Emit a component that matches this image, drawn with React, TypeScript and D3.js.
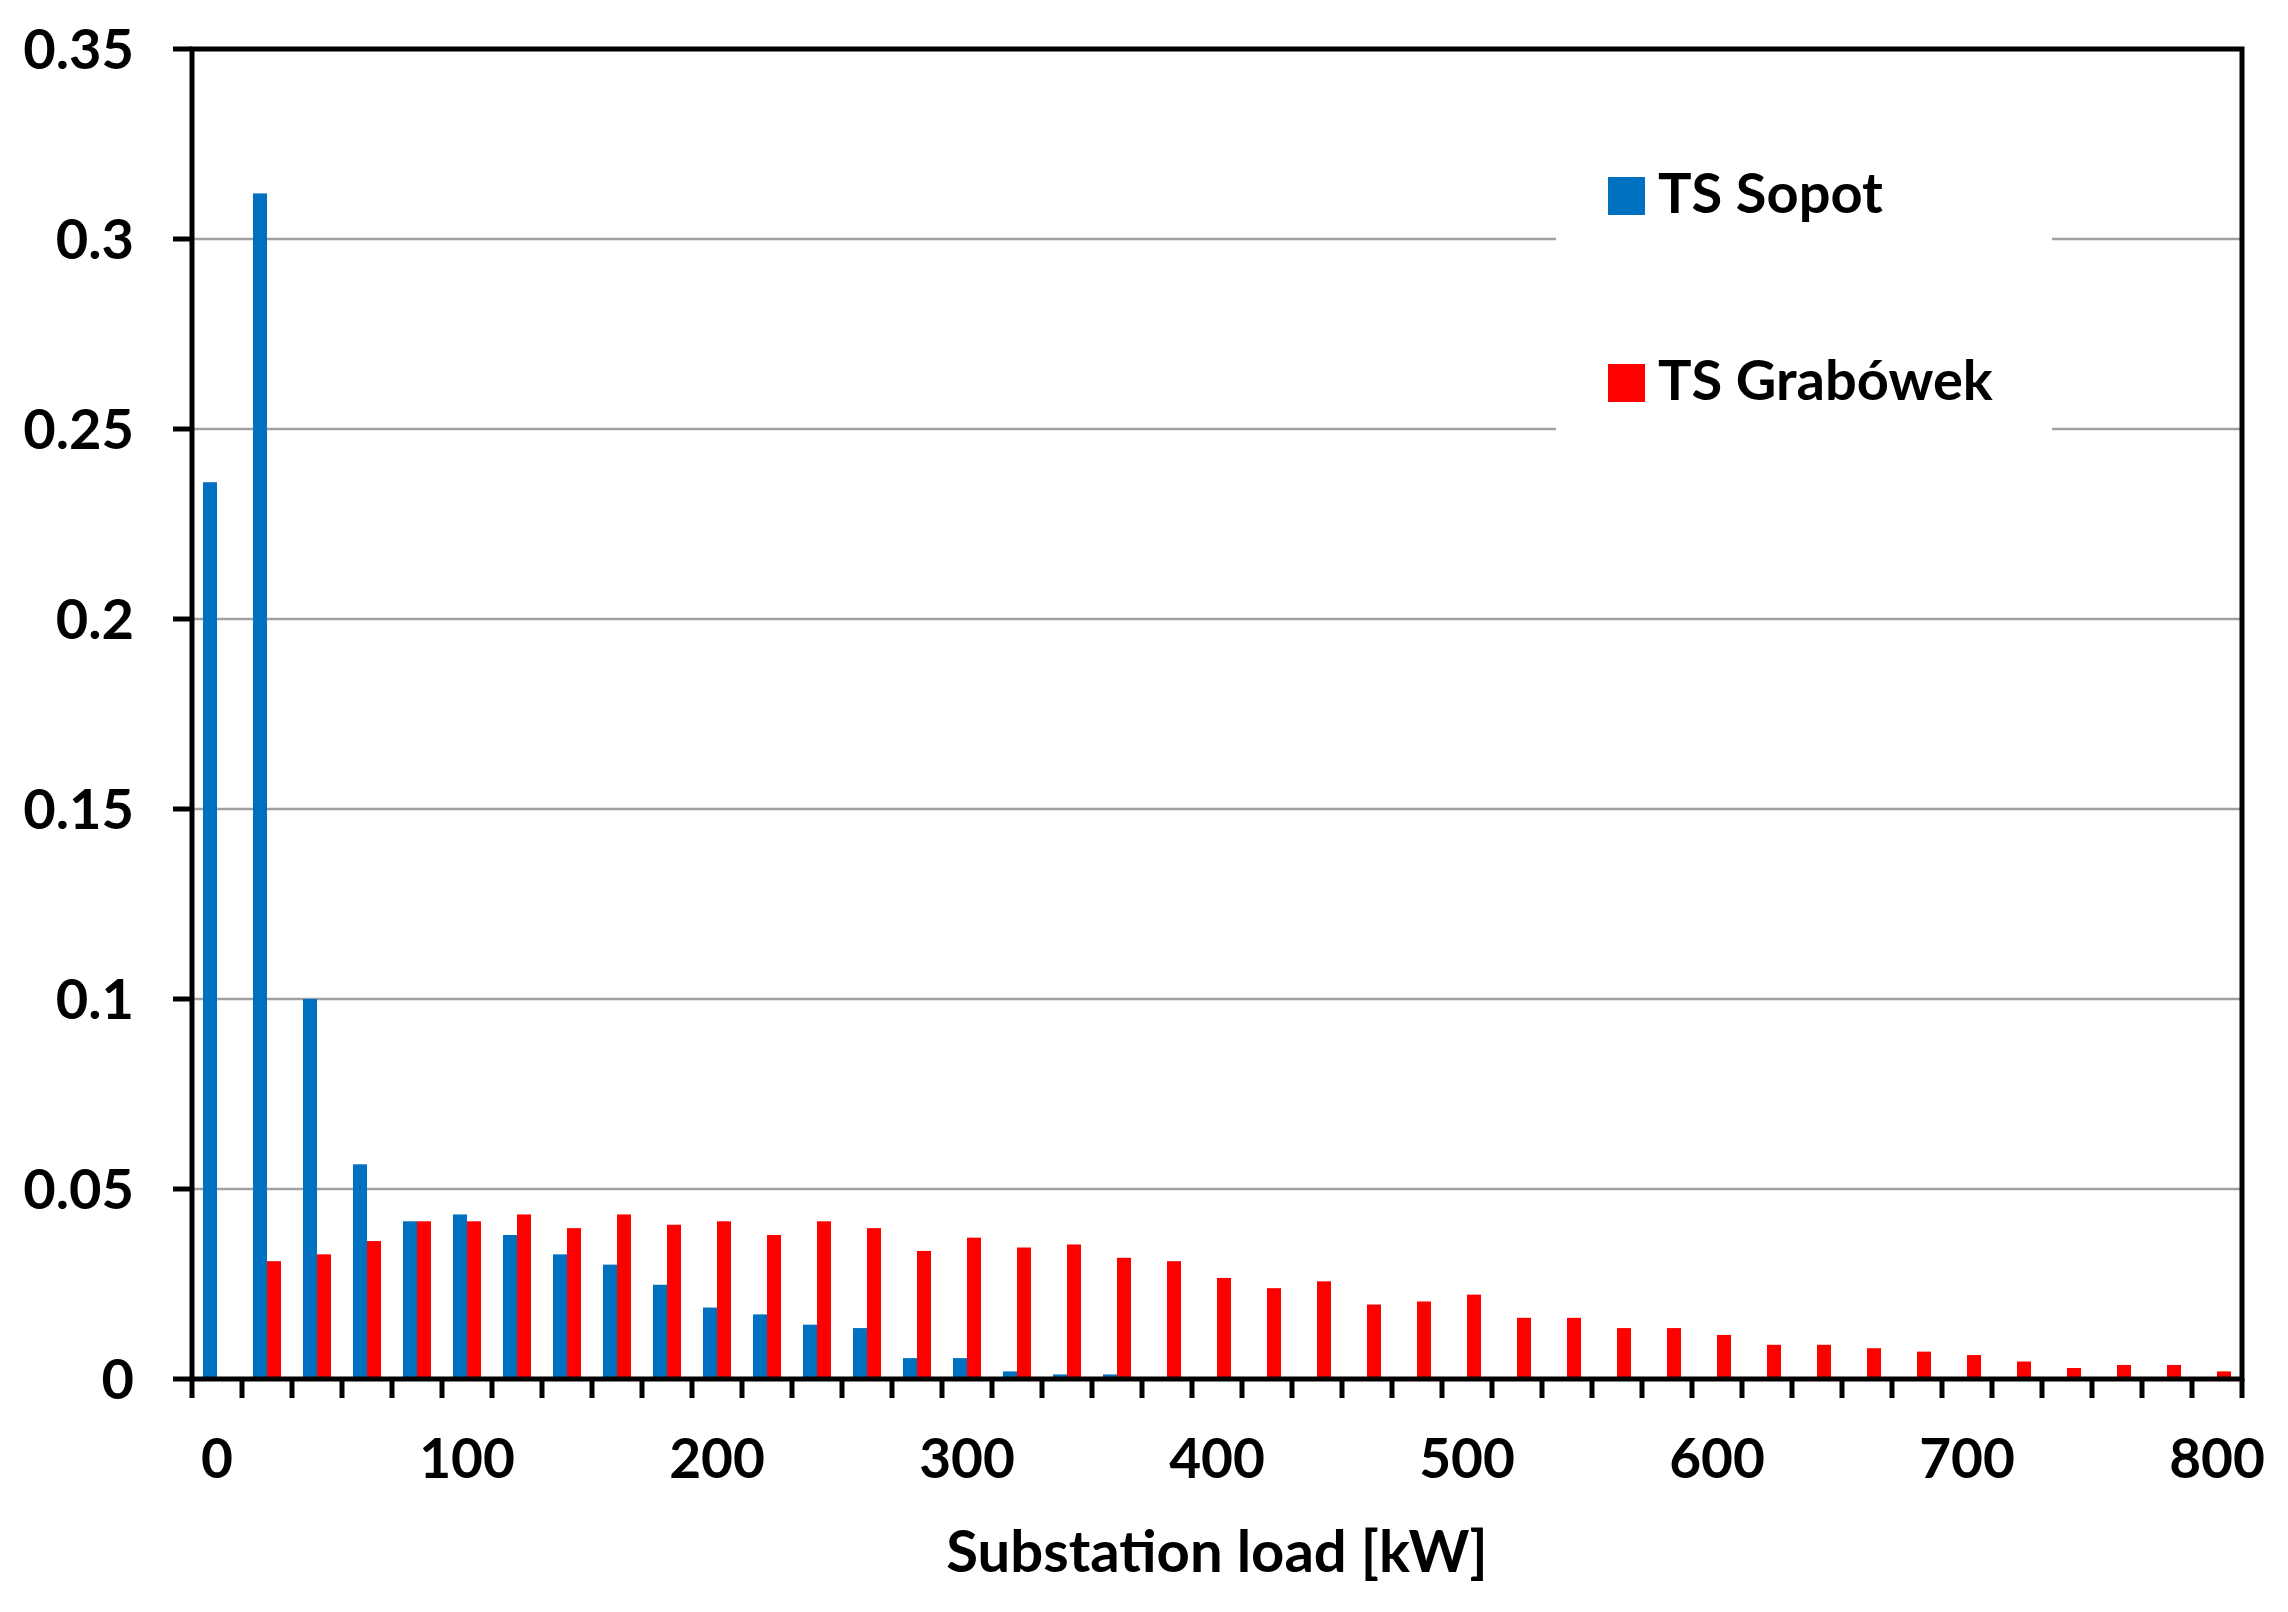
import { useEffect, useRef } from "react";
import * as d3 from "d3";

// load bins [kW]
const loadBins = d3.range(0, 801, 20);
const seriesNames = ["TS Sopot", "TS Grabówek"];
const seriesColors = ["#0070C0", "#FF0000"];

const sopot = [
  0.236, 0.312, 0.1, 0.0565, 0.0415, 0.0433, 0.0379, 0.0328, 0.0301, 0.0248,
  0.0188, 0.017, 0.0143, 0.0134, 0.0055, 0.0055, 0.002, 0.0012, 0.0012, 0,
  0, 0, 0, 0, 0, 0, 0, 0, 0, 0, 0, 0, 0, 0, 0, 0, 0, 0, 0, 0, 0,
];
const grabowek = [
  0, 0.031, 0.0328, 0.0363, 0.0415, 0.0415, 0.0433, 0.0397, 0.0433, 0.0406,
  0.0415, 0.0379, 0.0415, 0.0397, 0.0337, 0.0372, 0.0346, 0.0354, 0.0319,
  0.031, 0.0266, 0.0239, 0.0257, 0.0196, 0.0204, 0.0222, 0.0161, 0.0161,
  0.0134, 0.0134, 0.0116, 0.009, 0.009, 0.0081, 0.0072, 0.0063, 0.0046,
  0.0029, 0.0037, 0.0037, 0.002,
];
const yTicks = [0, 0.05, 0.1, 0.15, 0.2, 0.25, 0.3, 0.35];
const xLabels = [0, 100, 200, 300, 400, 500, 600, 700, 800];

const App = () => {
  const ref = useRef(null);

  useEffect(() => {
    document.body.style.margin = "0";
    const W = 2288;
    const H = 1612;
    const svg = d3.select(ref.current).attr("width", W).attr("height", H);
    svg.selectAll("*").remove();

    const left = 192;
    const right = 2242;
    const top = 49;
    const bottom = 1379;
    const font = "Lato, 'Open Sans', sans-serif";

    const x = d3.scaleBand().domain(loadBins.map(String)).range([left, right]);
    const bw = x.bandwidth();
    const inner = d3
      .scaleBand()
      .domain(seriesNames)
      .range([bw * 0.22, bw * 0.78]);
    const y = d3.scaleLinear().domain([0, 0.35]).range([bottom, top]);

    // gridlines
    svg
      .append("g")
      .selectAll("line")
      .data(yTicks.filter((t) => t > 0 && t < 0.35))
      .join("line")
      .attr("x1", left)
      .attr("x2", right)
      .attr("y1", (d) => y(d))
      .attr("y2", (d) => y(d))
      .attr("stroke", "#a0a0a0")
      .attr("stroke-width", 2.5);

    // legend background hides the grid
    svg
      .append("rect")
      .attr("x", 1556)
      .attr("y", 120)
      .attr("width", 496)
      .attr("height", 350)
      .attr("fill", "#fff");

    const data = [sopot, grabowek];
    data.forEach((vals, si) => {
      svg
        .append("g")
        .selectAll("rect")
        .data(vals)
        .join("rect")
        .attr("x", (d, i) => x(String(loadBins[i])) + inner(seriesNames[si]))
        .attr("width", inner.bandwidth())
        .attr("y", (d) => y(d))
        .attr("height", (d) => bottom - y(d))
        .attr("fill", seriesColors[si]);
    });

    // frame
    const axisColor = "#000";
    svg
      .append("rect")
      .attr("x", left)
      .attr("y", top)
      .attr("width", right - left)
      .attr("height", bottom - top)
      .attr("fill", "none")
      .attr("stroke", axisColor)
      .attr("stroke-width", 5);

    // y ticks + labels
    const yg = svg.append("g");
    yg.selectAll("line")
      .data(yTicks)
      .join("line")
      .attr("x1", left - 19)
      .attr("x2", left)
      .attr("y1", (d) => y(d))
      .attr("y2", (d) => y(d))
      .attr("stroke", axisColor)
      .attr("stroke-width", 5);
    yg.selectAll("text")
      .data(yTicks)
      .join("text")
      .attr("x", 134)
      .attr("y", (d) => y(d))
      .attr("dy", "0.36em")
      .attr("text-anchor", "end")
      .style("font-family", font)
      .style("font-weight", 700)
      .style("font-size", "56px")
      .text((d) => String(d));

    // x ticks at band edges
    const edges = loadBins.map((b) => x(String(b))).concat([right]);
    svg
      .append("g")
      .selectAll("line")
      .data(edges)
      .join("line")
      .attr("x1", (d) => d)
      .attr("x2", (d) => d)
      .attr("y1", bottom)
      .attr("y2", bottom + 19)
      .attr("stroke", axisColor)
      .attr("stroke-width", 5);
    svg
      .append("g")
      .selectAll("text")
      .data(xLabels)
      .join("text")
      .attr("x", (d) => x(String(d)) + bw / 2)
      .attr("y", 1478)
      .attr("text-anchor", "middle")
      .style("font-family", font)
      .style("font-weight", 700)
      .style("font-size", "55px")
      .text((d) => String(d));

    svg
      .append("text")
      .attr("x", (left + right) / 2)
      .attr("y", 1572)
      .attr("text-anchor", "middle")
      .style("font-family", font)
      .style("font-weight", 700)
      .style("font-size", "58px")
      .text("Substation load [kW]");

    // legend
    const legend = svg.append("g").attr("transform", "translate(1608, 177)");
    seriesNames.forEach((name, i) => {
      legend
        .append("rect")
        .attr("y", i * 187)
        .attr("width", 37)
        .attr("height", 38)
        .attr("fill", seriesColors[i]);
      legend
        .append("text")
        .attr("x", 50)
        .attr("y", i * 187 + 36)
        .style("font-family", font)
        .style("font-weight", 700)
        .style("font-size", "56px")
        .text(name);
    });
  }, []);

  return (
    <div>
      <svg ref={ref} style={{ display: "block" }}></svg>
    </div>
  );
};

export default App;
